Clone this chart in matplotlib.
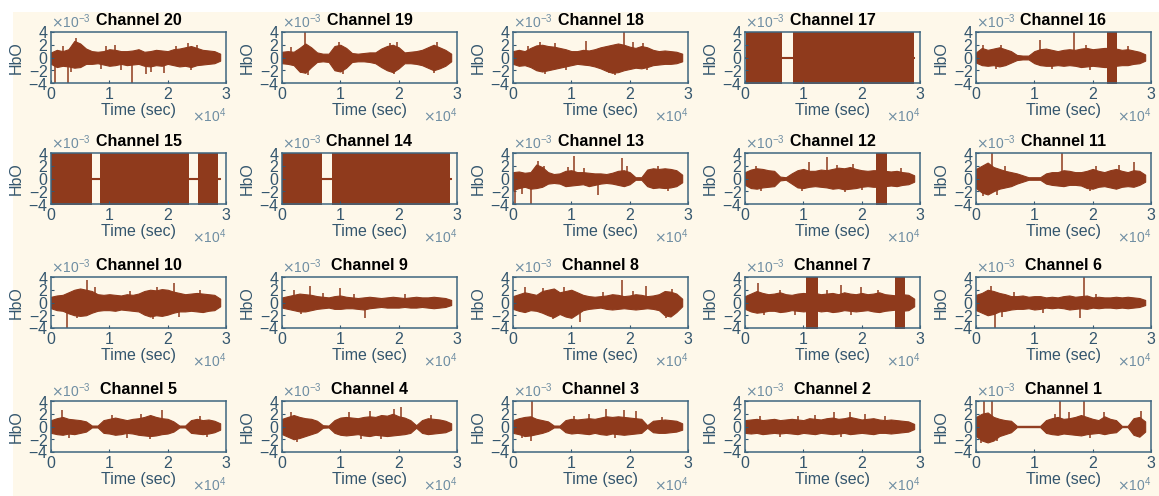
import numpy as np
import matplotlib.pyplot as plt
from matplotlib.patches import Rectangle

plt.rcParams['font.family'] = ['Liberation Sans', 'DejaVu Sans']
plt.rcParams['axes.unicode_minus'] = False

# envelope sample times (sec)
t = np.arange(0, 30000, 1000)

# panel order, row by row
channels = [20, 19, 18, 17, 16,
            15, 14, 13, 12, 11,
            10, 9, 8, 7, 6,
            5, 4, 3, 2, 1]

# upper / lower envelope of HbO for each channel (x 1e-3)
upper = {
    20: [0.8, 1.2, 1.0, 1.3, 2.6, 2.2, 1.4, 1.0, 0.9, 1.0,
         1.3, 1.2, 1.0, 1.0, 1.1, 1.3, 0.9, 1.0, 1.2, 1.1,
         1.0, 1.3, 1.4, 1.6, 1.8, 1.5, 1.2, 1.1, 1.0, 0.6],
    19: [0.9, 1.0, 0.9, 1.5, 2.2, 1.6, 0.8, 0.6, 0.6, 1.8,
         2.0, 1.5, 0.7, 0.6, 0.7, 0.8, 0.8, 1.4, 1.8, 2.0,
         1.6, 0.8, 0.9, 1.0, 1.2, 1.6, 2.0, 1.6, 1.2, 0.6],
    18: [1.0, 1.2, 1.0, 1.5, 1.9, 2.0, 1.8, 1.7, 1.5, 1.3,
         1.0, 1.0, 1.2, 1.1, 1.3, 1.6, 1.8, 2.0, 2.2, 2.0,
         1.7, 1.5, 1.8, 1.6, 1.2, 1.0, 1.1, 1.0, 0.9, 0.6],
    17: [0.1] * 30,
    16: [0.8, 1.5, 1.2, 1.4, 1.6, 1.3, 1.0, 0.4, 0.3, 0.3,
         1.0, 1.3, 1.4, 1.2, 1.0, 1.2, 1.3, 1.2, 1.4, 1.5,
         1.3, 1.4, 1.5, 1.5, 1.4, 1.2, 1.3, 1.1, 0.9, 0.5],
    15: [0.1] * 30,
    14: [0.1] * 30,
    13: [1.0, 1.1, 0.9, 1.0, 2.2, 1.8, 1.0, 0.7, 0.8, 1.2,
         1.3, 1.0, 1.0, 0.9, 0.8, 0.8, 0.7, 0.9, 1.2, 1.3,
         1.0, 0.2, 0.2, 1.4, 1.6, 1.5, 1.6, 1.5, 1.3, 0.6],
    12: [1.0, 1.4, 1.6, 1.5, 1.3, 1.2, 0.3, 0.2, 0.8, 1.3,
         1.5, 1.2, 1.2, 1.4, 1.3, 1.5, 1.7, 1.6, 1.8, 1.5,
         1.3, 1.2, 1.3, 1.3, 1.2, 1.1, 1.2, 1.0, 0.9, 0.5],
    11: [1.5, 2.0, 2.5, 1.8, 1.5, 1.2, 1.0, 0.8, 0.5, 0.2,
         0.2, 0.2, 0.8, 1.0, 1.0, 1.3, 1.2, 1.0, 1.0, 1.2,
         1.5, 1.2, 1.0, 1.3, 1.5, 1.2, 1.0, 1.3, 1.2, 0.6],
    10: [0.9, 1.1, 1.2, 1.6, 2.0, 2.2, 2.0, 1.8, 1.3, 1.2,
         1.3, 1.2, 1.1, 1.3, 1.2, 1.4, 1.8, 2.0, 1.9, 2.1,
         2.0, 1.7, 1.5, 1.3, 1.4, 1.5, 1.4, 1.3, 1.2, 0.6],
    9: [0.8, 1.0, 1.2, 1.4, 1.3, 1.2, 1.0, 0.9, 0.8, 1.0,
        1.1, 0.9, 0.8, 0.7, 0.8, 0.9, 0.8, 0.7, 0.8, 0.9,
        0.8, 0.7, 0.8, 0.9, 0.8, 0.8, 0.9, 0.8, 0.7, 0.4],
    8: [1.0, 1.3, 1.6, 1.4, 1.2, 1.8, 2.0, 2.2, 1.6, 1.8,
        2.0, 1.6, 1.2, 1.0, 0.9, 1.0, 1.1, 1.3, 1.2, 1.0,
        1.1, 1.3, 1.2, 1.0, 1.1, 1.3, 1.8, 1.7, 1.4, 0.6],
    7: [1.0, 1.4, 1.8, 1.5, 1.3, 1.4, 1.6, 1.3, 1.2, 1.4,
        1.5, 1.4, 1.5, 1.3, 1.4, 1.5, 1.3, 1.6, 1.4, 1.3,
        1.5, 1.3, 1.4, 1.6, 1.3, 1.2, 1.1, 1.3, 1.2, 0.6],
    6: [1.2, 1.5, 2.0, 1.8, 1.5, 1.3, 1.0, 1.0, 1.1, 0.9,
        1.0, 1.0, 0.8, 0.9, 0.8, 1.0, 1.1, 0.9, 1.0, 1.1,
        0.8, 0.9, 0.8, 0.8, 0.9, 0.8, 0.9, 0.8, 0.7, 0.4],
    5: [1.0, 1.3, 1.5, 1.2, 1.1, 1.0, 0.8, 0.15, 0.15, 1.0,
        1.2, 1.4, 1.2, 1.0, 1.2, 1.3, 1.5, 1.8, 1.5, 1.3,
        1.2, 0.8, 0.15, 0.15, 1.0, 1.2, 1.0, 1.1, 0.9, 0.5],
    4: [1.2, 1.5, 1.8, 1.5, 1.3, 1.2, 0.9, 0.2, 0.15, 1.0,
        1.4, 1.5, 1.4, 1.3, 1.5, 1.6, 1.5, 1.8, 1.7, 2.0,
        1.6, 1.4, 1.0, 0.2, 1.0, 1.3, 1.2, 1.1, 0.9, 0.5],
    3: [1.0, 1.3, 1.5, 1.6, 1.2, 1.0, 0.8, 0.15, 0.15, 1.0,
        1.2, 1.1, 1.2, 1.3, 1.2, 1.4, 1.6, 1.5, 1.6, 1.5,
        1.4, 1.3, 1.2, 0.2, 0.9, 1.0, 1.1, 1.0, 0.9, 0.5],
    2: [1.0, 1.1, 1.2, 1.0, 1.1, 1.2, 1.0, 1.1, 1.2, 1.1,
        1.0, 1.3, 1.2, 1.1, 1.3, 1.4, 1.2, 1.3, 1.5, 1.3,
        1.1, 1.2, 1.3, 1.1, 1.0, 1.1, 1.0, 0.9, 0.8, 0.4],
    1: [1.5, 2.0, 2.2, 1.5, 1.2, 1.0, 0.9, 0.1, 0.1, 0.1,
        0.1, 0.1, 1.0, 1.3, 1.5, 1.2, 1.3, 1.5, 1.8, 1.5,
        1.2, 1.0, 1.6, 1.2, 1.0, 0.1, 0.1, 1.3, 1.5, 0.8],
}
lower = {
    20: [-1.0, -1.5, -1.3, -1.4, -1.6, -1.5, -1.0, -1.0, -0.9, -1.1,
         -1.3, -1.2, -1.0, -1.2, -1.1, -1.0, -1.3, -1.4, -1.2, -1.3,
         -1.0, -1.2, -1.4, -1.3, -1.5, -1.2, -1.1, -1.0, -0.9, -0.5],
    19: [-0.9, -1.0, -1.2, -2.2, -2.4, -1.5, -0.7, -0.6, -0.7, -2.0,
         -2.2, -1.6, -0.7, -0.6, -0.6, -0.7, -0.9, -1.5, -2.0, -2.3,
         -1.7, -0.9, -0.9, -1.0, -1.2, -1.6, -2.0, -1.7, -1.3, -0.6],
    18: [-1.0, -1.3, -1.2, -1.5, -2.0, -2.2, -2.0, -1.8, -1.6, -1.4,
         -1.2, -1.0, -1.1, -1.2, -1.4, -1.7, -2.1, -2.4, -2.3, -2.0,
         -1.8, -1.6, -1.7, -1.5, -1.2, -1.1, -1.0, -1.0, -0.9, -0.6],
    17: [-0.1] * 30,
    16: [-0.8, -1.2, -1.3, -1.2, -1.4, -1.2, -0.8, -0.4, -0.3, -0.3,
         -0.9, -1.2, -1.3, -1.3, -1.2, -1.3, -1.2, -1.3, -1.5, -1.4,
         -1.3, -1.4, -1.5, -1.5, -1.3, -1.2, -1.2, -1.0, -0.9, -0.5],
    15: [-0.1] * 30,
    14: [-0.1] * 30,
    13: [-1.8, -1.5, -1.3, -1.6, -1.5, -1.3, -0.8, -0.7, -0.8, -1.2,
         -1.1, -1.0, -0.9, -1.2, -1.0, -0.8, -0.7, -0.8, -1.0, -1.2,
         -0.9, -0.2, -0.2, -1.2, -1.5, -1.4, -1.5, -1.4, -1.2, -0.6],
    12: [-1.0, -1.5, -1.6, -1.4, -1.3, -1.2, -0.3, -0.2, -0.8, -1.4,
         -1.5, -1.3, -1.2, -1.3, -1.4, -1.6, -1.5, -1.7, -1.6, -1.5,
         -1.3, -1.2, -1.3, -1.3, -1.2, -1.1, -1.2, -1.0, -0.9, -0.5],
    11: [-1.5, -2.2, -2.5, -2.0, -1.6, -1.4, -1.2, -0.8, -0.5, -0.2,
         -0.2, -0.2, -0.8, -1.0, -1.1, -1.2, -1.0, -1.0, -1.1, -1.5,
         -1.6, -1.3, -1.2, -1.4, -1.6, -1.3, -1.2, -1.3, -1.0, -0.5],
    10: [-0.9, -1.2, -1.3, -1.7, -2.0, -2.1, -2.0, -1.6, -1.3, -1.2,
         -1.2, -1.3, -1.1, -1.2, -1.3, -1.4, -1.9, -2.2, -2.0, -2.1,
         -1.9, -1.6, -1.4, -1.4, -1.3, -1.4, -1.5, -1.3, -1.2, -0.6],
    9: [-0.8, -1.0, -1.2, -1.4, -1.4, -1.2, -1.0, -0.9, -0.8, -1.0,
        -1.0, -0.9, -0.9, -1.0, -1.1, -0.9, -0.8, -0.7, -0.8, -0.8,
        -0.8, -0.7, -0.8, -0.8, -0.7, -0.8, -0.9, -0.8, -0.7, -0.4],
    8: [-1.0, -1.3, -1.5, -1.2, -1.3, -1.6, -2.0, -2.3, -1.8, -2.2,
        -2.4, -1.8, -1.2, -1.0, -0.9, -0.8, -1.0, -1.1, -1.0, -0.9,
        -1.0, -1.1, -1.0, -0.9, -1.0, -1.2, -2.0, -2.2, -1.5, -0.6],
    7: [-1.0, -1.4, -1.6, -1.5, -1.3, -1.3, -1.5, -1.4, -1.2, -1.3,
        -1.4, -1.3, -1.2, -1.4, -1.3, -1.5, -1.4, -1.2, -1.3, -1.4,
        -1.3, -1.2, -1.4, -1.5, -1.3, -1.2, -1.1, -1.3, -1.2, -0.6],
    6: [-1.2, -1.6, -2.0, -1.8, -1.4, -1.3, -1.1, -1.0, -1.0, -0.9,
        -1.1, -1.0, -0.8, -0.9, -0.8, -0.9, -1.1, -1.0, -0.9, -1.0,
        -0.8, -0.9, -0.8, -0.8, -0.9, -0.8, -0.9, -0.8, -0.7, -0.4],
    5: [-1.0, -1.2, -1.3, -1.1, -1.2, -1.0, -0.8, -0.15, -0.15, -1.0,
        -1.1, -1.3, -1.2, -1.0, -1.1, -1.3, -1.4, -1.5, -1.4, -1.2,
        -1.1, -0.8, -0.15, -0.15, -1.0, -1.1, -1.2, -1.1, -0.9, -0.5],
    4: [-1.2, -1.6, -2.0, -1.8, -1.5, -1.2, -0.9, -0.2, -0.15, -1.0,
        -1.3, -1.4, -1.3, -1.2, -1.4, -1.5, -1.3, -1.4, -1.5, -1.4,
        -1.3, -1.2, -1.0, -0.2, -1.0, -1.2, -1.1, -1.0, -0.9, -0.5],
    3: [-1.0, -1.2, -1.5, -1.4, -1.2, -1.0, -0.7, -0.15, -0.15, -0.9,
        -1.1, -1.0, -1.1, -1.2, -1.0, -1.2, -1.3, -1.1, -1.2, -1.3,
        -1.2, -1.1, -1.0, -0.2, -0.9, -1.0, -1.0, -0.9, -0.8, -0.5],
    2: [-1.0, -1.1, -1.0, -1.2, -1.1, -1.0, -1.1, -1.0, -1.1, -1.2,
        -1.0, -1.1, -1.2, -1.0, -1.1, -1.2, -1.1, -1.0, -1.2, -1.1,
        -1.0, -1.1, -1.2, -1.0, -1.0, -1.1, -1.0, -0.9, -0.8, -0.4],
    1: [-1.5, -2.2, -2.5, -2.2, -1.5, -1.2, -0.9, -0.1, -0.1, -0.1,
        -0.1, -0.1, -1.0, -1.2, -1.3, -1.1, -1.2, -1.3, -1.4, -1.2,
        -1.1, -1.0, -1.2, -1.0, -0.9, -0.1, -0.1, -1.3, -1.6, -0.8],
}

# peaks poking out of the envelope: (time, value x 1e-3)
spikes = {
    20: [(600, -4), (2000, 1.8), (2900, -4), (3500, -2.2), (4300, 3.0), (5200, 2.0),
         (8500, -1.8), (9500, 1.8), (11000, 1.9), (12000, -2.0), (13900, -4),
         (16200, -2.6), (17200, -2.2), (19300, -2.4), (21500, 1.8), (23500, 2.2),
         (24000, -2.0), (25000, 2.0)],
    19: [(1500, 1.6), (3200, -2.5), (3900, 4.0), (4400, -2.8), (9800, 2.4),
         (10500, -2.6), (18500, 2.2), (19200, -2.6), (19700, 2.5), (26000, -2.4),
         (26500, 2.4)],
    18: [(2500, 1.8), (4700, 2.4), (5500, -2.6), (7200, 2.2), (9000, -2.0),
         (12500, 2.6), (16500, -2.4), (17500, -2.8), (19000, 4.0), (20500, 2.4),
         (22300, 2.2), (23000, -2.0)],
    16: [(1200, 1.9), (3500, -1.8), (4200, 2.0), (11000, 2.8), (13000, -1.8),
         (16800, 4.0), (18800, 1.9), (19500, -1.9), (26000, 1.8)],
    13: [(400, -4), (1500, -2.5), (3000, -4), (4200, 2.8), (5300, 2.0),
         (9500, 1.8), (10500, 3.6), (12200, 1.6), (14500, -2.6), (18700, 3.2),
         (19600, 1.9), (24800, 2.0), (26500, -1.9)],
    12: [(1800, 2.0), (2800, -2.0), (9700, -1.9), (11000, 2.6), (14000, 3.4),
         (15800, 2.1), (17200, -2.1), (18500, 2.3), (20000, -1.8), (26800, 1.7)],
    11: [(1200, -2.8), (2800, 4.0), (3600, -2.6), (5000, 2.0), (14800, 4.0),
         (19500, -2.0), (20500, 2.0), (24500, 2.1), (27000, 2.6)],
    10: [(2800, -4), (4500, -2.4), (6200, 3.5), (7500, 2.4), (13500, 1.8),
         (17500, -2.6), (18200, 2.5), (21000, 3.0), (22000, -2.2), (25500, 1.9)],
    9: [(2000, 2.0), (3200, -1.8), (4800, 2.6), (7000, 1.5), (10000, 2.3),
        (12300, 1.4), (14200, -2.4), (21000, 1.3)],
    8: [(2000, 2.4), (5200, 2.2), (6800, -2.6), (8800, 2.5), (11500, -3.1),
        (15500, 1.7), (18700, 3.6), (20500, 1.8), (22800, 2.6), (26300, -2.5),
        (27200, 2.1)],
    7: [(2200, 3.0), (3200, -2.0), (6000, 2.0), (8600, -1.9), (14000, 2.0),
        (16500, 2.8), (18200, -1.9), (19800, 2.4), (22800, 2.0)],
    6: [(2500, 2.6), (3300, -4), (4500, -2.2), (6500, 1.6), (11500, -1.6),
        (17800, -2.4), (18500, 4.0), (20500, 1.4)],
    5: [(1800, 2.6), (3000, -1.8), (10500, 1.8), (13000, -1.8), (15500, 2.0),
        (17000, -1.9), (19000, 2.6), (25500, 1.7), (26800, -1.6)],
    4: [(1500, 2.2), (2600, -2.4), (11500, 2.2), (13500, -1.9), (15000, 2.4),
        (17000, -2.0), (19200, 2.8), (20400, 3.0), (25500, 1.8)],
    3: [(1500, -1.8), (3000, -2.2), (3300, 4.0), (10500, 1.7), (13000, 2.0),
        (16000, 2.8), (17500, -1.8), (19000, 2.6), (21000, 2.4), (25500, 1.5)],
    2: [(2500, 1.7), (6000, -1.6), (9000, 1.7), (12000, 1.8), (15200, 2.2),
        (16500, -1.7), (18000, 2.3), (20500, 1.9), (24000, 1.6)],
    1: [(800, -2.6), (1300, 4.0), (1800, -2.6), (2700, 4.0), (3600, -2.3),
        (13500, 2.0), (14400, 4.0), (16000, 2.2), (18500, 4.0), (19500, -1.8),
        (22000, 2.2), (28200, 2.4)],
}

# stretches where the signal swings across the whole range (start, end) in sec
blocks = {
    17: [(200, 6400), (8300, 29000)],
    16: [(22500, 24200)],
    15: [(0, 7000), (8400, 23700), (25200, 28700)],
    14: [(0, 6900), (8500, 28800)],
    12: [(22400, 24400)],
    7: [(10400, 12500), (25700, 27400)],
}

trace = '#8f3a1c'
frame = '#3f6680'
label_col = '#34566e'
cream = '#fef8ea'

W, H = 1159, 496
lefts = [51, 282, 513, 745, 976]
tops = [32, 153, 277, 401]
aw, ah = 175, 51

fig = plt.figure(figsize=(W / 100, H / 100), dpi=100)
fig.patches.append(Rectangle((13 / W, 0), 1, 1 - 12 / H, transform=fig.transFigure,
                             facecolor=cream, edgecolor='none', zorder=-1))

for i, ch in enumerate(channels):
    r, c = divmod(i, 5)
    ax = fig.add_axes([lefts[c] / W, 1 - (tops[r] + ah) / H, aw / W, ah / H])
    ax.set_facecolor(cream)

    ax.fill_between(t, np.array(upper[ch]) * 1e-3, np.array(lower[ch]) * 1e-3,
                    color=trace, lw=0.8)
    for a, b in blocks.get(ch, []):
        ax.fill_between([a, b], -5e-3, 5e-3, color=trace, lw=0)
    for ts, v in spikes.get(ch, []):
        ax.vlines(ts, 0, v * 1e-3, color=trace, lw=1.1)

    ax.set_xlim(0, 30000)
    ax.set_ylim(-4e-3, 4e-3)
    ax.set_xticks([0, 10000, 20000, 30000])
    ax.set_yticks(np.arange(-4, 5, 2) * 1e-3)
    ax.ticklabel_format(style='sci', scilimits=(0, 0), useMathText=True)
    ax.tick_params(direction='in', length=2.5, width=0.8, colors=label_col,
                   labelsize=11.5, pad=2)
    for off in (ax.xaxis.get_offset_text(), ax.yaxis.get_offset_text()):
        off.set_fontsize(10)
        off.set_color('#6f8ea3')
    for s in ax.spines.values():
        s.set_color(frame)
        s.set_linewidth(1.1)

    ax.set_title('Channel %d' % ch, fontsize=11.5, fontweight='bold', pad=5)
    ax.set_xlabel('Time (sec)', fontsize=11.5, color=label_col, labelpad=1)
    ax.set_ylabel('HbO', fontsize=11.5, color=label_col, labelpad=3)

fig.savefig('out.png', dpi=100)
